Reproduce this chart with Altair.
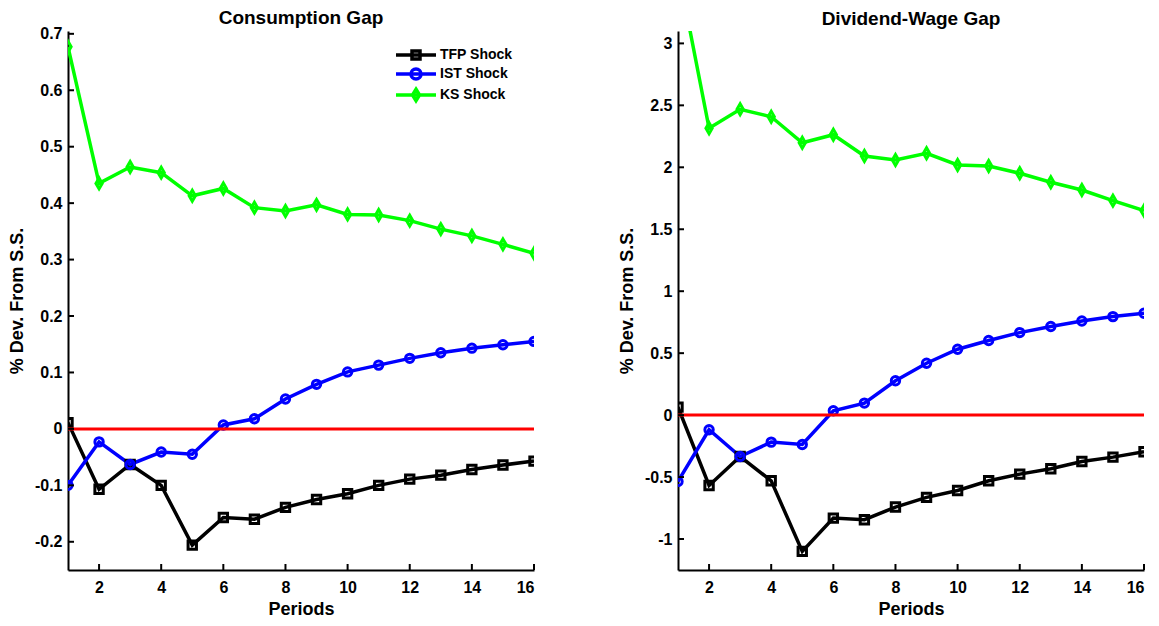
import altair as alt
import pandas as pd

periods = list(range(1, 17))
series_names = ["TFP Shock", "IST Shock", "KS Shock"]
series_colors = ["#000000", "#0000ff", "#00ff00"]

# Consumption Gap
cons_tfp = [0.011, -0.107, -0.063, -0.100, -0.206, -0.157, -0.160, -0.139,
            -0.125, -0.115, -0.100, -0.089, -0.082, -0.072, -0.064, -0.057]
cons_ist = [-0.100, -0.023, -0.063, -0.041, -0.045, 0.007, 0.018, 0.053,
            0.079, 0.101, 0.113, 0.125, 0.135, 0.143, 0.149, 0.155]
cons_ks = [0.677, 0.435, 0.464, 0.454, 0.413, 0.426, 0.392, 0.386,
           0.397, 0.380, 0.379, 0.369, 0.354, 0.342, 0.327, 0.311]

# Dividend-Wage Gap
dw_tfp = [0.064, -0.568, -0.334, -0.530, -1.100, -0.831, -0.844, -0.742,
          -0.664, -0.608, -0.530, -0.476, -0.433, -0.374, -0.339, -0.296]
dw_ist = [-0.535, -0.118, -0.334, -0.218, -0.237, 0.035, 0.097, 0.277,
          0.419, 0.532, 0.602, 0.666, 0.715, 0.760, 0.795, 0.822]
dw_ks = [3.60, 2.315, 2.468, 2.408, 2.198, 2.263, 2.091, 2.059,
         2.113, 2.019, 2.011, 1.952, 1.879, 1.817, 1.731, 1.650]

x_ticks = [2, 4, 6, 8, 10, 12, 14, 16]
cons_ticks = [-0.2, -0.1, 0, 0.1, 0.2, 0.3, 0.4, 0.5, 0.6, 0.7]
dw_ticks = [-1, -0.5, 0, 0.5, 1, 1.5, 2, 2.5, 3]
cons_domain = [-0.25, 0.705]
dw_domain = [-1.25, 3.1]

marker_shapes = ["square", "circle", "M0,-1.3L0.75,0L0,1.3L-0.75,0Z"]
legend_shapes = [
    "M-4,0H4M-0.8,-0.8H0.8V0.8H-0.8Z",
    "M-4,0H4M1,0A1,1 0 1,0 -1,0A1,1 0 1,0 1,0Z",
    "M-4,0H4M0,-1.15L0.7,0L0,1.15L-0.7,0Z",
]

FONT = "Liberation Sans"
W, H = 466, 539


def make_df(tfp, ist, ks):
    rows = []
    for name, vals in zip(series_names, [tfp, ist, ks]):
        for p, v in zip(periods, vals):
            rows.append({"period": p, "value": v, "series": name})
    return pd.DataFrame(rows)


def panel(df, title, ydomain, yticks, show_legend, title_offset):
    xsc = alt.Scale(domain=[1, 16], nice=False, zero=False)
    ysc = alt.Scale(domain=ydomain, nice=False, zero=False)
    xax = alt.Axis(values=x_ticks, title="Periods", labelPadding=9, titlePadding=5)
    yax = alt.Axis(values=yticks, title="% Dev. From S.S.", labelPadding=6, titlePadding=8,
                   labelExpr="replace(format(datum.value, '.1~f'), '\u2212', '-')")
    cscale = alt.Scale(domain=series_names, range=series_colors)
    if show_legend:
        leg = alt.Legend(title=None, orient="none", legendX=341, legendY=17, symbolSize=100,
                         symbolStrokeWidth=3.5, labelFont=FONT, labelFontSize=14,
                         labelFontWeight="bold", labelColor="black", labelOffset=17,
                         rowPadding=-4, padding=0)
    else:
        leg = None
    col = alt.Color("series:N", scale=cscale, legend=leg)
    x = alt.X("period:Q", scale=xsc, axis=xax)
    y = alt.Y("value:Q", scale=ysc, axis=yax)

    base = alt.Chart(df)
    layers = [base.mark_line(strokeWidth=3.5, clip=True).encode(x=x, y=y, color=col, detail="series:N")]
    for name, shp in zip(series_names, marker_shapes):
        layers.append(
            base.transform_filter(alt.datum.series == name)
            .mark_point(filled=False, size=70, strokeWidth=3, opacity=1, shape=shp, clip=True)
            .encode(x=x, y=y, color=col)
        )
    zero = alt.Chart(pd.DataFrame({"period": [1], "period2": [16], "value": [0]})).mark_rule(
        color="#ff0000", strokeWidth=3).encode(x=x, x2="period2:Q", y=y)
    ytick = alt.Chart(pd.DataFrame({"value": yticks})).mark_rule(color="black", strokeWidth=2).encode(
        y=y, x=alt.value(0), x2=alt.value(6))
    xtick = alt.Chart(pd.DataFrame({"period": x_ticks})).mark_rule(color="black", strokeWidth=2).encode(
        x=x, y=alt.value(H), y2=alt.value(H - 6))
    layers += [zero, ytick, xtick]
    if show_legend:
        legend_layer = base.transform_filter("false").mark_point(filled=False, strokeWidth=3, opacity=1).encode(
            x=x, y=y, color=col,
            shape=alt.Shape("series:N", scale=alt.Scale(domain=series_names, range=legend_shapes), legend=leg),
        )
        layers.append(legend_layer)
    ch = alt.layer(*layers).properties(
        width=W, height=H,
        title=alt.Title(title, font=FONT, fontSize=19, fontWeight="bold", color="black",
                        offset=title_offset, anchor="middle", frame="group"),
    )
    return ch


left = panel(make_df(cons_tfp, cons_ist, cons_ks), "Consumption Gap", cons_domain, cons_ticks, True, -2)
right = panel(make_df(dw_tfp, dw_ist, dw_ks), "Dividend-Wage Gap", dw_domain, dw_ticks, False, 2)

chart = alt.hconcat(left, right, spacing=82).resolve_scale(
    color="independent", shape="independent", x="independent", y="independent"
).properties(padding=0, background="white").configure_view(stroke=None).configure_axis(
    domainColor="black", domainWidth=2, ticks=False, grid=False,
    labelFont=FONT, labelFontSize=16, labelFontWeight="bold", labelColor="black",
    titleFont=FONT, titleFontSize=18, titleFontWeight="bold", titleColor="black",
)

chart.save("out.html", embed_options={"renderer": "svg", "actions": False})
